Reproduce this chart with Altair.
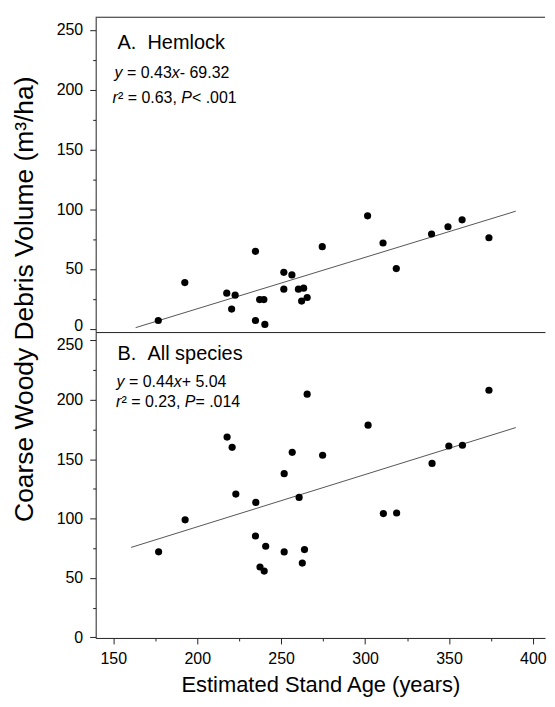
import altair as alt
import pandas as pd

# ---------------- data ----------------
hem_age = [176.8, 192.6, 217.6, 222.6, 220.5, 234.7, 234.7, 240.3, 237.2, 239.7,
           251.6, 256.4, 251.6, 260.3, 263.4, 262.2, 265.5, 274.5, 301.5, 310.7,
           318.6, 339.6, 349.4, 357.8, 373.8]
hem_vol = [6.9, 38.6, 29.7, 28.1, 16.4, 64.7, 6.9, 3.6, 24.4, 24.4,
           47.2, 45.0, 33.1, 33.1, 33.9, 23.1, 26.1, 68.6, 94.4, 71.7,
           50.3, 79.2, 85.3, 91.1, 76.1]

all_age = [177.0, 192.8, 217.8, 220.8, 223.0, 234.9, 234.7, 237.4, 239.9, 240.8,
           251.8, 251.8, 256.6, 260.7, 262.6, 263.9, 265.5, 274.7, 301.8, 310.9,
           318.8, 339.9, 349.9, 358.0, 373.8]
all_vol = [72.0, 98.9, 168.6, 160.0, 120.6, 113.6, 85.3, 59.2, 55.8, 76.7,
           137.8, 71.9, 155.8, 117.8, 62.5, 73.9, 204.7, 153.3, 178.6, 104.2,
           104.7, 146.4, 161.1, 161.7, 208.0]

hem_fit_x = [163.3, 389.8]
hem_fit_y = [0.9, 98.3]
all_fit_x = [160.6, 389.8]
all_fit_y = [75.7, 176.6]

x_ticks = [150, 175, 200, 225, 250, 275, 300, 325, 350, 375, 400]
y_ticks = [0, 25, 50, 75, 100, 125, 150, 175, 200, 225, 250]

# ---------------- layout / style ----------------
FONT = "Liberation Sans"
W = 451
H1 = 316
H2 = 307
X_DOMAIN = [139.5, 407.2]
Y1_DOMAIN = [-2.8, 260.5]
Y2_DOMAIN = [-0.5, 257.0]

AW = {'y': 500, 'x': 500, ' ': 278, '=': 584, '0': 556, '1': 556, '2': 556, '3': 556,
      '4': 556, '5': 556, '6': 556, '7': 556, '8': 556, '9': 556, '.': 278, ',': 278,
      '-': 333, '+': 584, '<': 584, 'P': 667, 'r': 333, '\u00b2': 333}


def text_width(s, size):
    return sum(AW.get(c, 556) for c in s) * size / 1000.0


def segments(parts, x0, y0, size):
    layers = []
    x = x0
    for txt, style in parts:
        layers.append(
            alt.Chart(pd.DataFrame({"a": [0]})).mark_text(
                align="left", baseline="alphabetic", font=FONT, fontSize=size,
                fontStyle=style, color="black"
            ).encode(x=alt.value(x), y=alt.value(y0), text=alt.value(txt))
        )
        x += text_width(txt, size)
    return layers


def label(txt, x0, y0, size, angle=0, align="left", baseline="alphabetic"):
    kw = dict(align=align, baseline=baseline, font=FONT, fontSize=size, color="black")
    if angle:
        kw["angle"] = angle
    return alt.Chart(pd.DataFrame({"a": [0]})).mark_text(**kw).encode(
        x=alt.value(x0), y=alt.value(y0), text=alt.value(txt))


tick_size = {"condition": {"test": "datum.value % 50 === 0", "value": 6}, "value": 3}
major_only = "datum.value % 50 === 0 ? datum.label : ''"

y_axis_top = alt.Axis(values=y_ticks, labelExpr=major_only, tickSize=tick_size,
                      labelOffset={"condition": {"test": "datum.value === 0", "value": -3}, "value": 0},
                      labelPadding=7, title=None, grid=False)
y_axis_bot = alt.Axis(values=y_ticks, labelExpr=major_only, tickSize=tick_size,
                      labelOffset={"condition": {"test": "datum.value === 250", "value": 4}, "value": 0},
                      labelPadding=7, title=None, grid=False)
x_axis_top = alt.Axis(domain=True, ticks=False, labels=False, title=None, grid=False)
x_axis_bot = alt.Axis(values=x_ticks, labelExpr=major_only, tickSize=tick_size,
                      labelPadding=7, title="Estimated Stand Age (years)",
                      titleFont=FONT, titleFontSize=22, titleFontWeight="normal",
                      titleColor="black", titlePadding=8, grid=False)

xs = alt.Scale(domain=X_DOMAIN, nice=False, zero=False)


def panel(age, vol, fx, fy, ydom, xaxis, yaxis):
    ys = alt.Scale(domain=ydom, nice=False, zero=False)
    pts = pd.DataFrame({"age": age, "vol": vol})
    fit = pd.DataFrame({"age": fx, "vol": fy})
    enc_x = alt.X("age:Q", scale=xs, axis=xaxis)
    enc_y = alt.Y("vol:Q", scale=ys, axis=yaxis)
    line = alt.Chart(fit).mark_line(color="#555555", strokeWidth=1).encode(x=enc_x, y=enc_y)
    dots = alt.Chart(pts).mark_circle(size=52, color="black", opacity=1).encode(x=enc_x, y=enc_y)
    return [line, dots]


top_border = alt.Chart(pd.DataFrame({"a": [0]})).mark_rule(color="#222222", strokeWidth=1).encode(
    x=alt.value(0), x2=alt.value(W), y=alt.value(0))

top_layers = [top_border] + panel(hem_age, hem_vol, hem_fit_x, hem_fit_y, Y1_DOMAIN, x_axis_top, y_axis_top)
top_layers.append(label("A.\u00a0\u00a0Hemlock", 22, 31.7, 20))
top_layers += segments([("y ", "italic"), ("= 0.43", "normal"), ("x", "italic"), ("- 69.32", "normal")], 19, 60.5, 16)
top_layers += segments([("r", "italic"), ("\u00b2 = 0.63, ", "normal"), ("P", "italic"), ("< .001", "normal")], 17, 86.5, 16)
top_layers.append(label("Coarse Woody Debris Volume (m\u00b3/ha)", -71, 283, 26.5, angle=270,
                        align="center", baseline="middle"))
top = alt.layer(*top_layers).properties(width=W, height=H1)

bot_layers = panel(all_age, all_vol, all_fit_x, all_fit_y, Y2_DOMAIN, x_axis_bot, y_axis_bot)
bot_layers.append(label("B.\u00a0\u00a0All species", 22, 27.6, 20))
bot_layers += segments([("y ", "italic"), ("= 0.44", "normal"), ("x", "italic"), ("+ 5.04", "normal")], 21, 55, 16)
bot_layers += segments([("r", "italic"), ("\u00b2 = 0.23, ", "normal"), ("P", "italic"), ("= .014", "normal")], 20.5, 75, 16)
bottom = alt.layer(*bot_layers).properties(width=W, height=H2)

chart = alt.vconcat(top, bottom, spacing=0, bounds="flush").properties(
    padding={"left": 4, "top": 7, "right": 0, "bottom": 0}
).configure_view(stroke=None).configure_axis(
    domainColor="#222222", tickColor="#222222", labelColor="black",
    labelFont=FONT, labelFontSize=16, domainWidth=1, tickWidth=1
)

chart.save("out.html", embed_options={"renderer": "svg", "actions": False})
